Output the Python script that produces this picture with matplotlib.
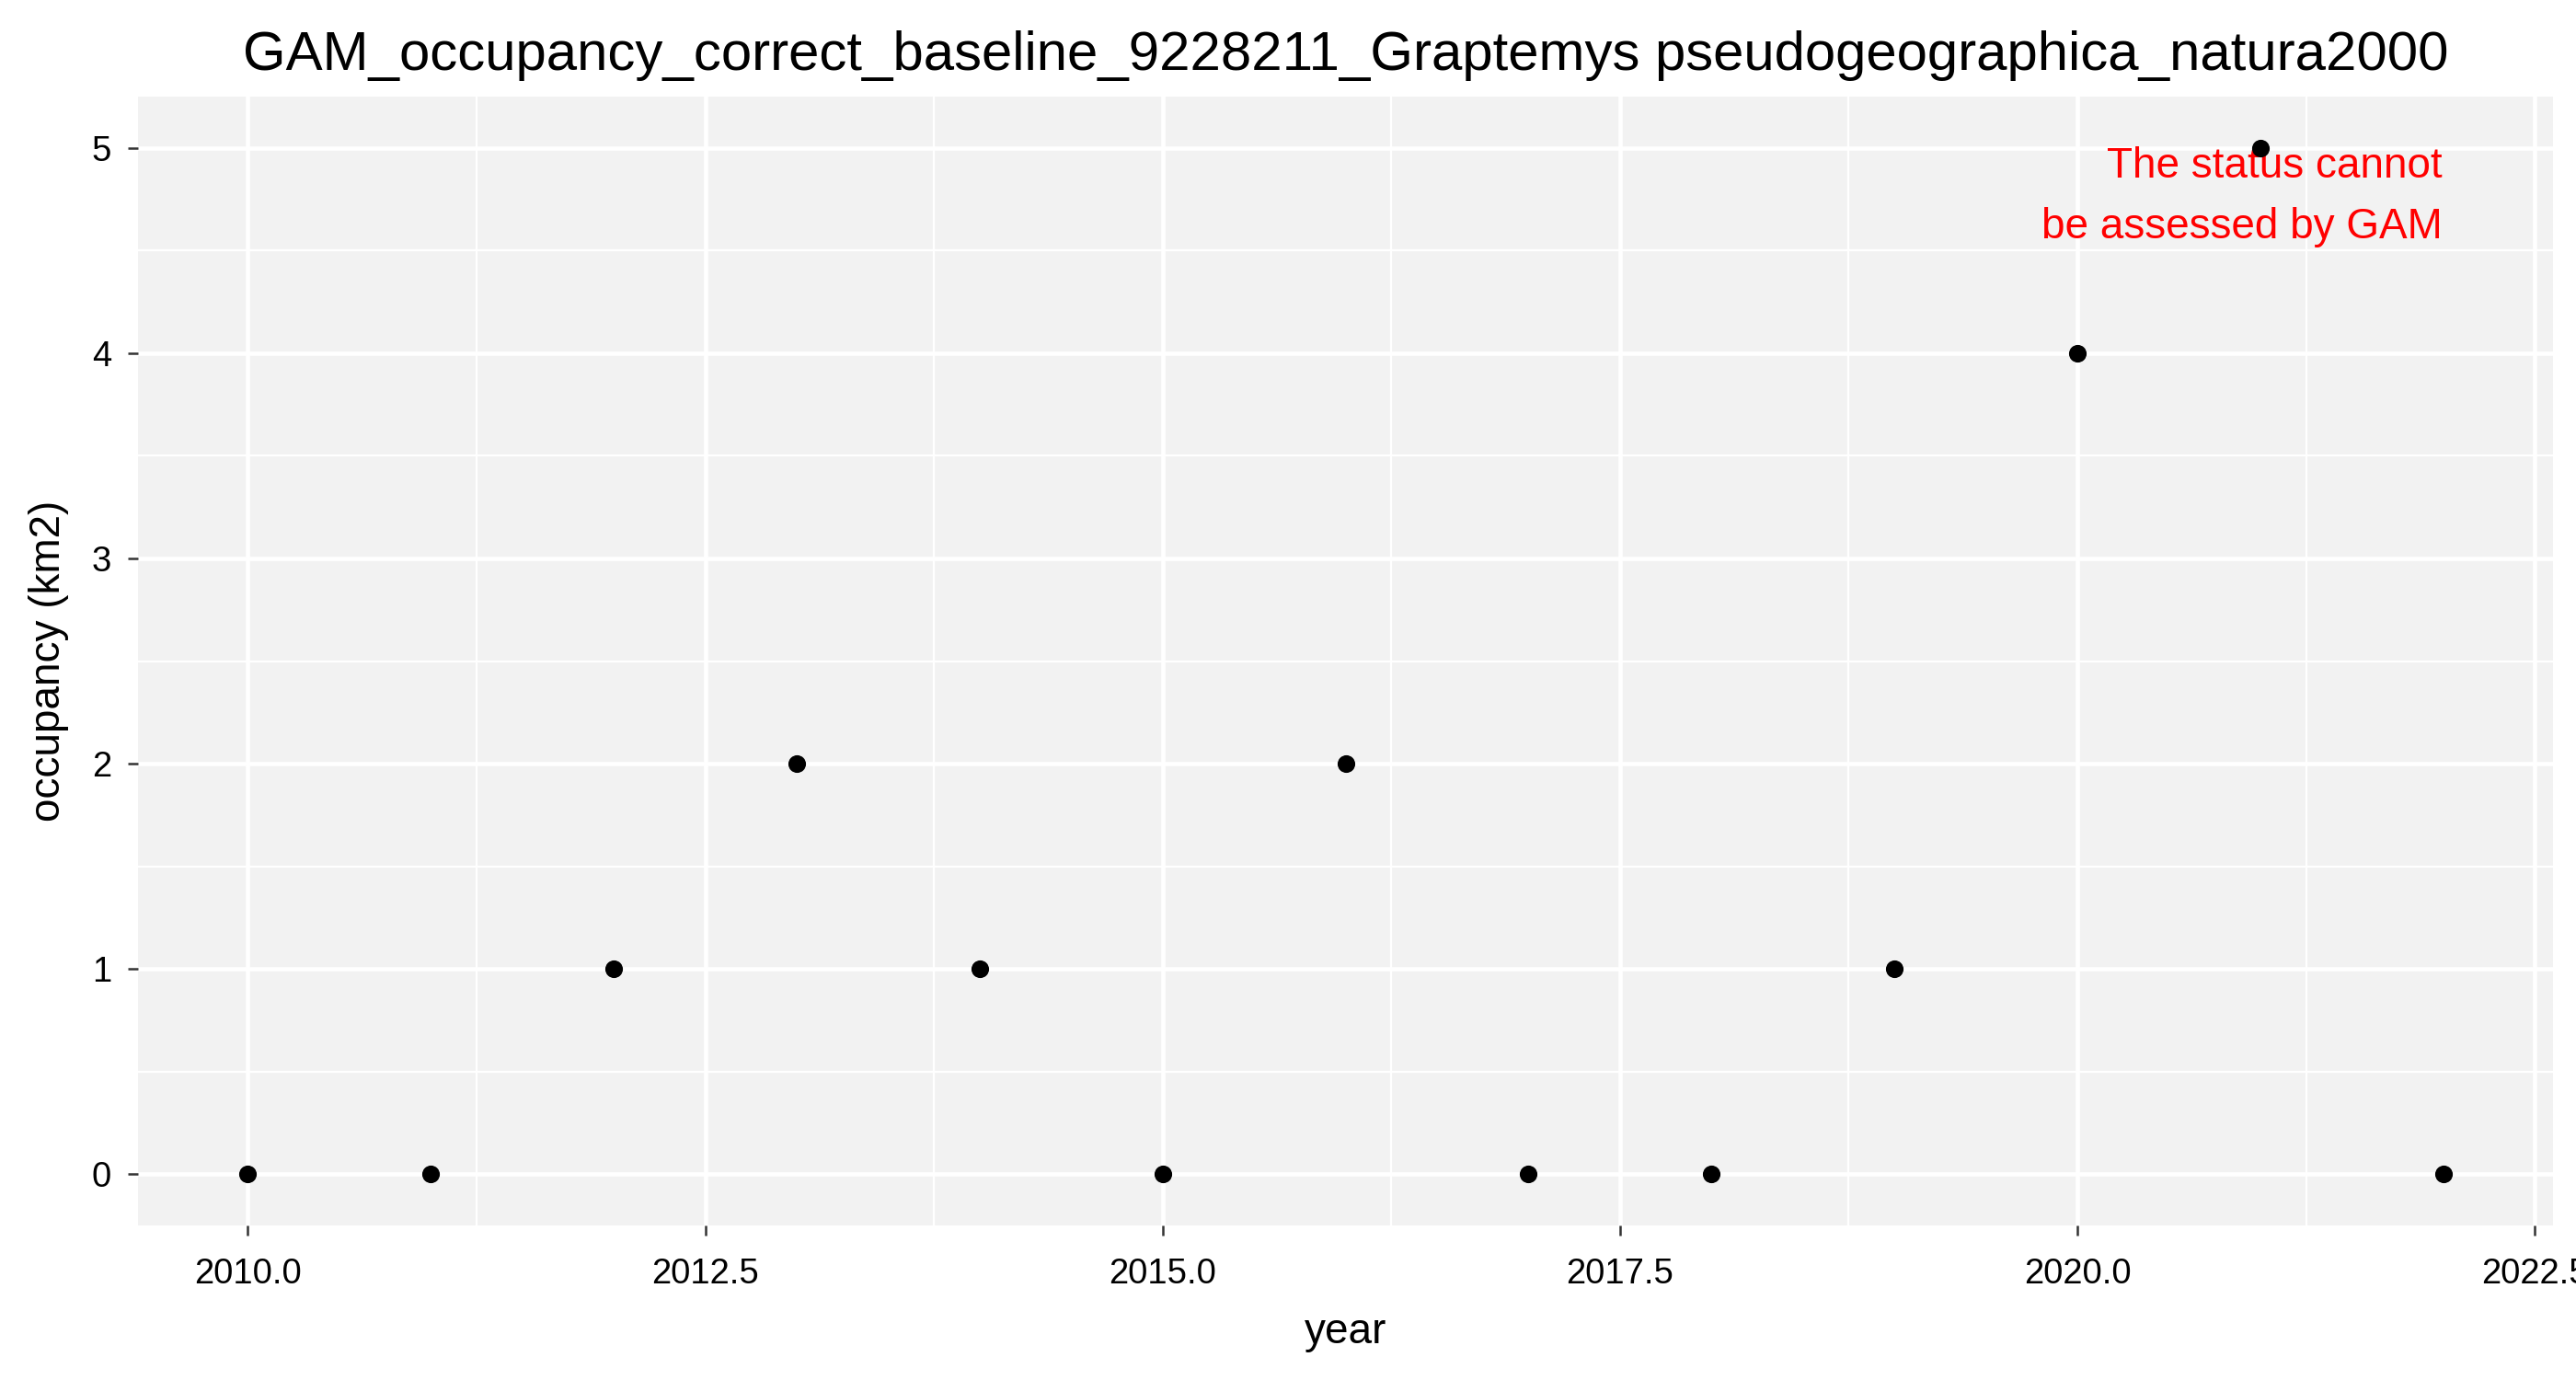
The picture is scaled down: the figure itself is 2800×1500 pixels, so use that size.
import matplotlib
matplotlib.use('Agg')
import matplotlib.pyplot as plt
from matplotlib.ticker import MultipleLocator

plt.rcParams['font.family'] = ['Liberation Sans', 'DejaVu Sans']

years = [2010, 2011, 2012, 2013, 2014, 2015, 2016, 2017, 2018, 2019, 2020, 2021, 2022]
occupancy = [0, 0, 1, 2, 1, 0, 2, 0, 0, 1, 4, 5, 0]

title = 'GAM_occupancy_correct_baseline_9228211_Graptemys pseudogeographica_natura2000'
note = 'The status cannot\nbe assessed by GAM'

fig = plt.figure(figsize=(2800 / 300, 1500 / 300), dpi=300)
ax = fig.add_axes([0.0536, 0.112, 0.9375, 0.818])

ax.set_facecolor('#F2F2F2')
for s in ax.spines.values():
    s.set_visible(False)

ax.xaxis.set_major_locator(MultipleLocator(2.5))
ax.xaxis.set_minor_locator(MultipleLocator(1.25))
ax.yaxis.set_major_locator(MultipleLocator(1))
ax.yaxis.set_minor_locator(MultipleLocator(0.5))
ax.grid(which='major', color='white', linewidth=1.1)
ax.grid(which='minor', color='white', linewidth=0.55)
ax.set_axisbelow(True)

ax.scatter(years, occupancy, s=4.6 ** 2, color='black', zorder=3, linewidths=0)

# red note, roughly centred on the 2021 point
ax.text(2020.9, 4.76, note, color='red', fontsize=11, ha='center', va='center',
        multialignment='right', linespacing=1.65, zorder=2)

ax.set_xlim(2009.4, 2022.6)
ax.set_ylim(-0.25, 5.25)
ax.xaxis.set_major_formatter(plt.FuncFormatter(lambda v, p: '%.1f' % v))

ax.tick_params(which='major', length=2.75, width=0.6, color='#333333',
               labelsize=9.2, labelcolor='black', pad=4.2)
ax.tick_params(axis='x', which='major', pad=5.6)
ax.tick_params(which='minor', length=0)

ax.set_xlabel('year', fontsize=11, labelpad=5.5)
ax.set_ylabel('occupancy (km2)', fontsize=11, labelpad=6)
ax.set_title(title, fontsize=14.4, pad=7)

fig.savefig('out.png', dpi=300)
